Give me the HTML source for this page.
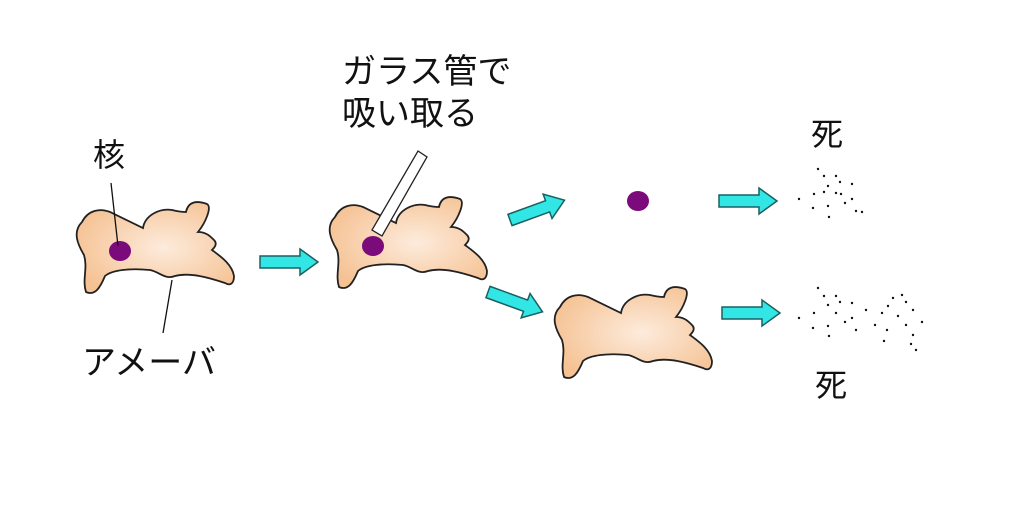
<!DOCTYPE html>
<html><head><meta charset="utf-8"><style>
body{margin:0;background:#fff;}
.t{position:absolute;font-family:"Liberation Sans","Noto Sans CJK JP",sans-serif;color:#111;line-height:1;}
</style></head><body>
<div style="position:relative;width:1024px;height:508px;overflow:hidden">
<svg width="1024" height="508" style="position:absolute;left:0;top:0">
<defs>
<radialGradient id="g" cx="0.55" cy="0.5" r="0.6">
<stop offset="0" stop-color="#fdebdc"/><stop offset="1" stop-color="#f5c293"/></radialGradient>
<path id="am" d="M82,222 C88,210 100,208 110,212 L143,228 C145,215 160,208 172,210 C180,212 184,212 186,212 C188,202 196,200 207,204 C212,207 206,222 198,232 C206,232 210,236 214,240 C218,244 214,248 212,250 C220,256 232,264 234,276 C234,284 230,286 225,283 C210,278 190,272 175,276 C165,280 160,272 150,270 C130,268 112,270 105,276 C100,288 95,296 86,292 C82,280 88,268 84,255 C78,245 72,232 82,222 Z" fill="url(#g)" stroke="#222" stroke-width="1.8"/>
<path id="ar" d="M0,-6 L40,-6 L40,-13 L58,0 L40,13 L40,6 L0,6 Z" fill="#33e6e6" stroke="#1a6060" stroke-width="1.5"/>
</defs>
<use href="#am"/>
<ellipse cx="120" cy="251" rx="11" ry="10" fill="#7b0a7b"/>
<line x1="111" y1="183" x2="118" y2="246" stroke="#111" stroke-width="1.3"/>
<line x1="172" y1="280" x2="163" y2="333" stroke="#111" stroke-width="1.3"/>
<use href="#am" transform="translate(253,-5)"/>
<ellipse cx="373" cy="246" rx="11" ry="10" fill="#7b0a7b"/>
<polygon points="418,151 427,157 382,236 372,230" fill="#fff" stroke="#222" stroke-width="1.3"/>
<use href="#am" transform="translate(478,85)"/>
<ellipse cx="638" cy="201" rx="11" ry="10" fill="#7b0a7b"/>
<use href="#ar" transform="translate(260,262)"/>
<use href="#ar" transform="translate(510,220) rotate(-20)"/>
<use href="#ar" transform="translate(488,292) rotate(20)"/>
<use href="#ar" transform="translate(719,201)"/>
<use href="#ar" transform="translate(722,313)"/>
<g fill="#111">
<circle cx="799" cy="199" r="1.2"/><circle cx="818" cy="169" r="1.2"/><circle cx="824" cy="176" r="1.2"/><circle cx="828" cy="186" r="1.2"/><circle cx="814" cy="194" r="1.2"/><circle cx="824" cy="192" r="1.2"/><circle cx="836" cy="176" r="1.2"/><circle cx="840" cy="182" r="1.2"/><circle cx="852" cy="184" r="1.2"/><circle cx="836" cy="193" r="1.2"/><circle cx="841" cy="194" r="1.2"/><circle cx="845" cy="203" r="1.2"/><circle cx="852" cy="199" r="1.2"/><circle cx="828" cy="206" r="1.2"/><circle cx="813" cy="208" r="1.2"/><circle cx="856" cy="211" r="1.2"/><circle cx="862" cy="212" r="1.2"/><circle cx="829" cy="217" r="1.2"/>
<circle cx="799" cy="318" r="1.2"/><circle cx="818" cy="288" r="1.2"/><circle cx="824" cy="296" r="1.2"/><circle cx="828" cy="305" r="1.2"/><circle cx="814" cy="313" r="1.2"/><circle cx="836" cy="296" r="1.2"/><circle cx="840" cy="302" r="1.2"/><circle cx="852" cy="303" r="1.2"/><circle cx="836" cy="313" r="1.2"/><circle cx="845" cy="322" r="1.2"/><circle cx="852" cy="318" r="1.2"/><circle cx="828" cy="326" r="1.2"/><circle cx="813" cy="328" r="1.2"/><circle cx="856" cy="330" r="1.2"/><circle cx="829" cy="336" r="1.2"/><circle cx="866" cy="310" r="1.2"/><circle cx="875" cy="325" r="1.2"/><circle cx="882" cy="313" r="1.2"/><circle cx="888" cy="306" r="1.2"/><circle cx="893" cy="298" r="1.2"/><circle cx="902" cy="295" r="1.2"/><circle cx="906" cy="302" r="1.2"/><circle cx="913" cy="310" r="1.2"/><circle cx="898" cy="316" r="1.2"/><circle cx="906" cy="325" r="1.2"/><circle cx="922" cy="322" r="1.2"/><circle cx="887" cy="330" r="1.2"/><circle cx="913" cy="335" r="1.2"/><circle cx="911" cy="344" r="1.2"/><circle cx="916" cy="350" r="1.2"/><circle cx="884" cy="341" r="1.2"/>
</g>
</svg>
<div class="t" style="left:93px;top:139px;font-size:32px">核</div>
<div class="t" style="left:82px;top:346px;font-size:34px">アメーバ</div>
<div class="t" style="left:342px;top:55px;font-size:34px">ガラス管で</div>
<div class="t" style="left:342px;top:97px;font-size:34px">吸い取る</div>
<div class="t" style="left:811px;top:118px;font-size:32px">死</div>
<div class="t" style="left:815px;top:369px;font-size:32px">死</div>
</div>
</body></html>
